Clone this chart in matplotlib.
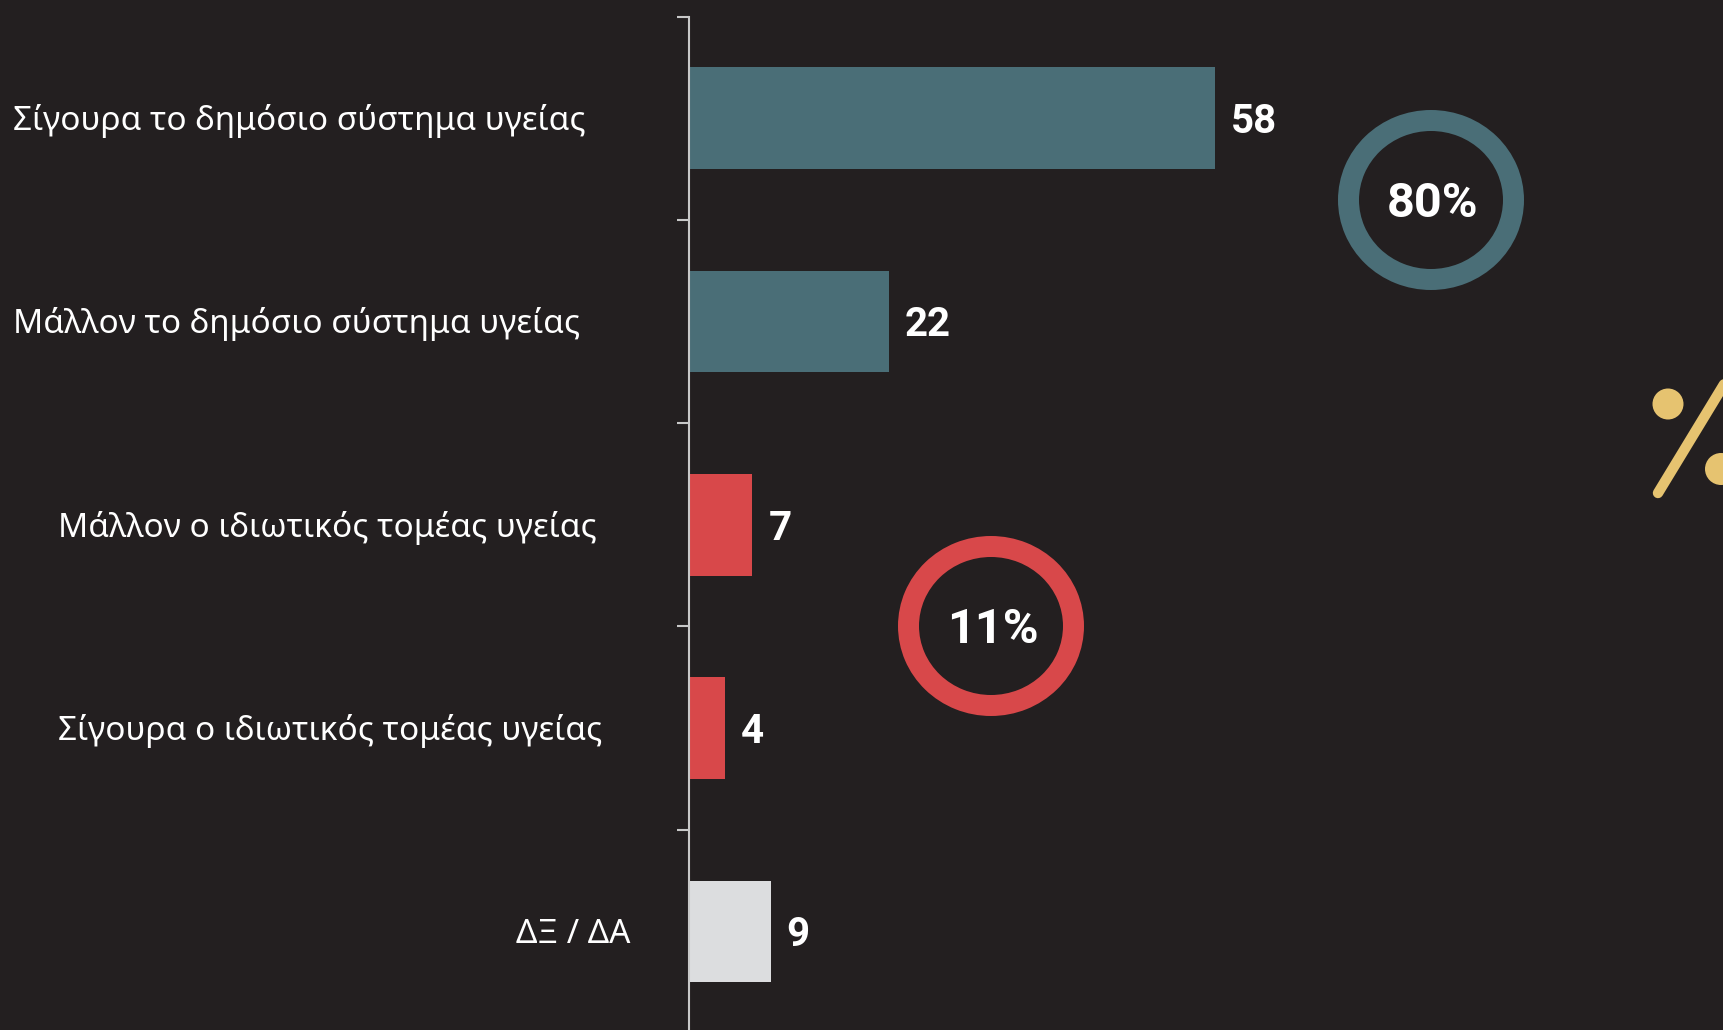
import matplotlib
matplotlib.use("Agg")
import matplotlib.pyplot as plt
from matplotlib.patches import Annulus, Circle
from matplotlib.lines import Line2D
from matplotlib.transforms import blended_transform_factory
import numpy as np

# data
categories = [
    "Σίγουρα το δημόσιο σύστημα υγείας",
    "Μάλλον το δημόσιο σύστημα υγείας",
    "Μάλλον ο ιδιωτικός τομέας υγείας",
    "Σίγουρα ο ιδιωτικός τομέας υγείας",
    "ΔΞ / ΔΑ",
]
values = [58, 22, 7, 4, 9]
groups = {"public": [0, 1], "private": [2, 3]}

BG = "#231f20"
TEAL = "#4a6e77"
RED = "#d8484a"
GREY = "#dcdddf"
GOLD = "#e6c370"
AXIS = "#c8c8c8"
bar_colors = [TEAL, TEAL, RED, RED, GREY]
label_x_px = [13, 13, 58, 58, 516]

W, H = 1723, 1030
fig = plt.figure(figsize=(W / 100, H / 100), dpi=100, facecolor=BG)

ax = fig.add_axes([689 / W, -3 / H, 1034 / W, 1016.5 / H])
ax.set_facecolor(BG)
pos = np.arange(len(categories))
ax.barh(pos, values, height=0.5, color=bar_colors)
ax.set_ylim(len(categories) - 0.5, -0.5)
ax.set_xlim(0, 1034 / 9.07)
for side in ("top", "right", "bottom"):
    ax.spines[side].set_visible(False)
ax.spines["left"].set_color(AXIS)
ax.spines["left"].set_linewidth(1.5)
ax.set_xticks([])
ax.set_yticks(pos, [""] * len(pos))
ax.tick_params(axis="y", which="major", length=0)
ax.set_yticks(np.arange(len(categories) + 1) - 0.5, minor=True)
ax.tick_params(axis="y", which="minor", length=8.5, width=1.5, color=AXIS)

trans = blended_transform_factory(fig.transFigure, ax.transData)
for i, (name, lx) in enumerate(zip(categories, label_x_px)):
    ax.annotate(name, (lx / W, i), xycoords=trans, xytext=(0, -12),
                textcoords="offset pixels", ha="left", va="baseline",
                color="white", fontsize=24, family="Noto Sans")
    ax.annotate(str(values[i]), (values[i], i), xytext=(16, -15),
                textcoords="offset pixels", ha="left", va="baseline",
                color="white", fontsize=29, family="Roboto", fontweight="bold")

# overlay in pixel coordinates for rings and decoration
ov = fig.add_axes([0, 0, 1, 1])
ov.set_xlim(0, W)
ov.set_ylim(H, 0)
ov.axis("off")
ov.patch.set_alpha(0)

rings = [("public", (1431, 200), TEAL), ("private", (991, 626), RED)]
for key, (cx, cy), col in rings:
    total = sum(values[k] for k in groups[key])
    ov.add_patch(Annulus((cx, cy), (93, 90), 21, color=col, lw=0))
    ov.text(cx + 2, cy + 4, f"{total}%", ha="center", va="center", color="white",
            fontsize=35, family="Roboto", fontweight="bold")

# decorative percent sign at the right edge
ov.add_line(Line2D([1658, 1658 + 65 * 2.2], [493, 493 - 107 * 2.2], color=GOLD,
                   lw=7.5, solid_capstyle="round"))
ov.add_patch(Circle((1668, 404), 15.5, color=GOLD, lw=0))
ov.add_patch(Circle((1721, 469), 16, color=GOLD, lw=0))

fig.savefig("out.png", dpi=100, facecolor=BG)
